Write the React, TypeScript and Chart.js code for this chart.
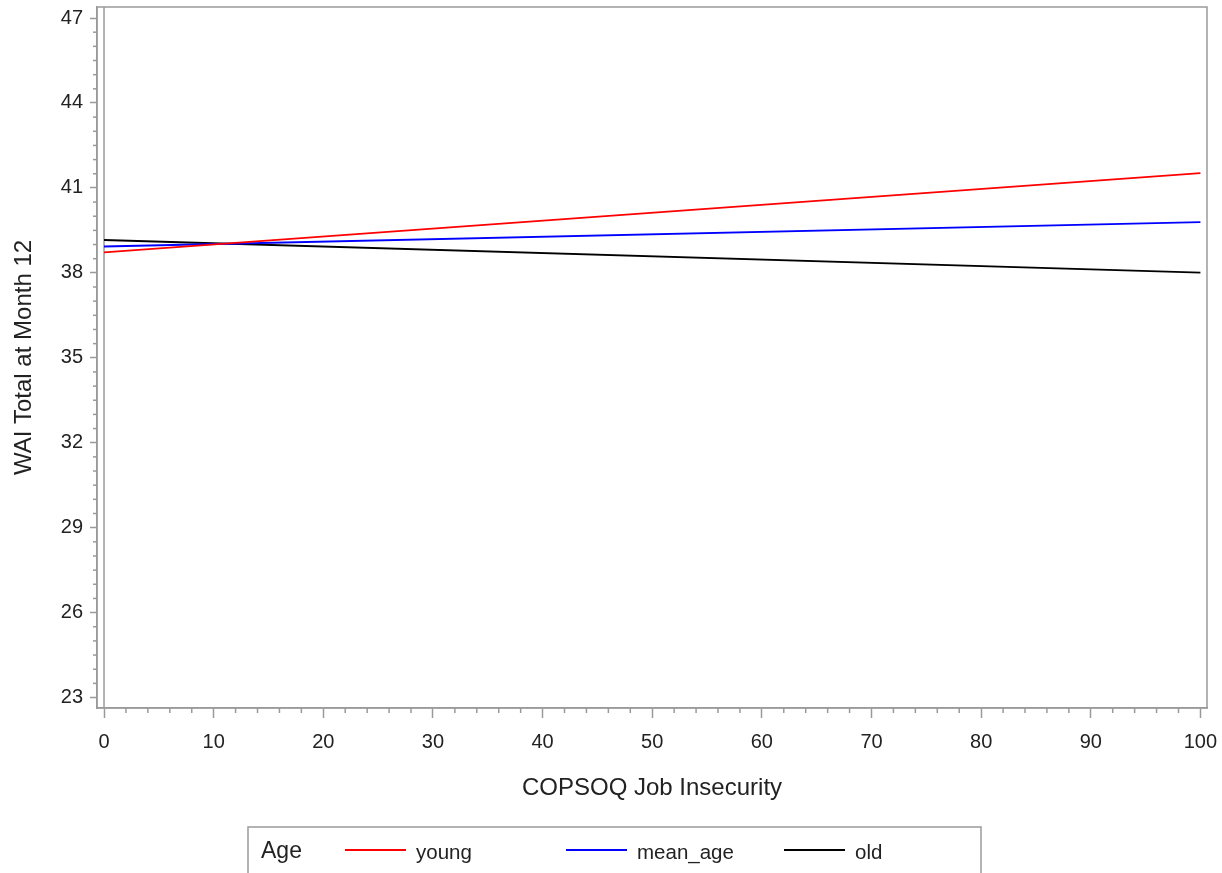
import React, { useEffect, useRef } from "react";
import { Chart, registerables } from "chart.js";

Chart.register(...registerables);

// ---- data ----
const xValues = [0, 100];
const youngValues = [38.72, 41.52];
const meanAgeValues = [38.93, 39.79];
const oldValues = [39.16, 38.01];

const seriesLabels = ["young", "mean_age", "old"];
const seriesColors = ["#ff0000", "#0000ff", "#000000"];

const xTickValues = [0, 10, 20, 30, 40, 50, 60, 70, 80, 90, 100];
const yTickValues = [23, 26, 29, 32, 35, 38, 41, 44, 47];
const xMinorStep = 2;
const yMinorStep = 0.5;

const xTitle = "COPSOQ Job Insecurity";
const yTitle = "WAI Total at Month 12";
const legendTitle = "Age";

const FONT = "'Liberation Sans', Arial, sans-serif";
const AXIS_GRAY = "#9a9a9a";
const TEXT = "#222222";

const framePlugin = {
  id: "frame",
  beforeDatasetsDraw(chart: any) {
    const { ctx, chartArea: a, scales } = chart;
    const x = scales.x;
    const y = scales.y;
    ctx.save();
    ctx.strokeStyle = AXIS_GRAY;
    ctx.lineWidth = 1.5;
    ctx.strokeRect(a.left, a.top, a.right - a.left, a.bottom - a.top);
    // vertical line at x = 0
    const x0 = x.getPixelForValue(xTickValues[0]);
    ctx.beginPath();
    ctx.moveTo(x0, a.top);
    ctx.lineTo(x0, a.bottom);
    ctx.stroke();
    // minor ticks x
    const xs = xTickValues;
    for (let i = 0; i < xs.length - 1; i++) {
      for (let v = xs[i] + xMinorStep; v < xs[i + 1] - 1e-9; v += xMinorStep) {
        const px = x.getPixelForValue(v);
        ctx.beginPath();
        ctx.moveTo(px, a.bottom);
        ctx.lineTo(px, a.bottom + 5);
        ctx.stroke();
      }
    }
    // minor ticks y
    const ys = yTickValues;
    for (let i = 0; i < ys.length - 1; i++) {
      for (let v = ys[i] + yMinorStep; v < ys[i + 1] - 1e-9; v += yMinorStep) {
        const py = y.getPixelForValue(v);
        ctx.beginPath();
        ctx.moveTo(a.left, py);
        ctx.lineTo(a.left - 4, py);
        ctx.stroke();
      }
    }
    ctx.restore();
  },
  afterDraw(chart: any) {
    const { ctx } = chart;
    const ds = chart.data.datasets;
    ctx.save();
    // legend box (cut off by the bottom of the picture)
    ctx.strokeStyle = AXIS_GRAY;
    ctx.lineWidth = 1.5;
    ctx.strokeRect(248, 827, 733, 80);
    const rowY = 852;
    ctx.fillStyle = TEXT;
    ctx.textBaseline = "middle";
    ctx.textAlign = "left";
    ctx.font = `23px ${FONT}`;
    ctx.fillText(legendTitle, 261, rowY);
    const starts = [345, 566, 784];
    ctx.font = `20.5px ${FONT}`;
    ds.forEach((d: any, i: number) => {
      const sx = starts[i];
      ctx.strokeStyle = d.borderColor;
      ctx.lineWidth = 2;
      ctx.beginPath();
      ctx.moveTo(sx, rowY - 2);
      ctx.lineTo(sx + 61, rowY - 2);
      ctx.stroke();
      ctx.fillStyle = TEXT;
      ctx.fillText(d.label, sx + 71, rowY + 1);
    });
    ctx.restore();
  },
};

export default function App() {
  const canvasRef = useRef<HTMLCanvasElement | null>(null);

  useEffect(() => {
    document.body.style.margin = "0";
    const canvas = canvasRef.current;
    if (!canvas) return;
    const allSeries = [youngValues, meanAgeValues, oldValues];
    const chart = new Chart(canvas, {
      type: "line",
      data: {
        datasets: allSeries.map((vals, i) => ({
          label: seriesLabels[i],
          data: xValues.map((xv, j) => ({ x: xv, y: vals[j] })),
          borderColor: seriesColors[i],
          backgroundColor: seriesColors[i],
          borderWidth: 1.8,
          pointRadius: 0,
          fill: false,
          tension: 0,
        })),
      },
      options: {
        animation: false,
        responsive: false,
        devicePixelRatio: 1,
        layout: { padding: { top: 7, right: 15, bottom: 0, left: 0 } },
        plugins: {
          legend: { display: false },
          tooltip: { enabled: false },
          title: { display: false },
        },
        scales: {
          x: {
            type: "linear",
            min: -0.64,
            max: 100.6,
            afterBuildTicks: (scale: any) => {
              scale.ticks = xTickValues.map((v) => ({ value: v }));
            },
            afterFit: (scale: any) => {
              scale.height = 165;
              scale.paddingLeft = 0;
              scale.paddingRight = 0;
            },
            ticks: {
              autoSkip: false,
              maxRotation: 0,
              padding: 12,
              color: TEXT,
              font: { family: FONT, size: 20 },
            },
            grid: {
              drawOnChartArea: false,
              drawTicks: true,
              tickLength: 10,
              tickColor: AXIS_GRAY,
              tickWidth: 1.5,
            },
            border: { display: true, color: AXIS_GRAY, width: 1.5 },
            title: {
              display: true,
              text: xTitle,
              color: TEXT,
              font: { family: FONT, size: 24 },
              padding: { top: 0, bottom: 70 },
            },
          },
          y: {
            type: "linear",
            min: 22.63,
            max: 47.39,
            afterBuildTicks: (scale: any) => {
              scale.ticks = yTickValues.map((v) => ({ value: v }));
            },
            afterFit: (scale: any) => {
              scale.width = 97;
              scale.paddingTop = 0;
              scale.paddingBottom = 0;
            },
            ticks: {
              autoSkip: false,
              padding: 7,
              color: TEXT,
              font: { family: FONT, size: 20 },
            },
            grid: {
              drawOnChartArea: false,
              drawTicks: true,
              tickLength: 7,
              tickColor: AXIS_GRAY,
              tickWidth: 1.5,
            },
            border: { display: true, color: AXIS_GRAY, width: 1.5 },
            title: {
              display: true,
              text: yTitle,
              color: TEXT,
              font: { family: FONT, size: 24 },
              padding: { top: 9.6, bottom: 0 },
            },
          },
        },
      },
      plugins: [framePlugin],
    } as any);
    return () => chart.destroy();
  }, []);

  return (
    <div style={{ width: 1222, height: 873, overflow: "hidden", background: "#fff" }}>
      <canvas ref={canvasRef} width={1222} height={873} style={{ display: "block" }} />
    </div>
  );
}
